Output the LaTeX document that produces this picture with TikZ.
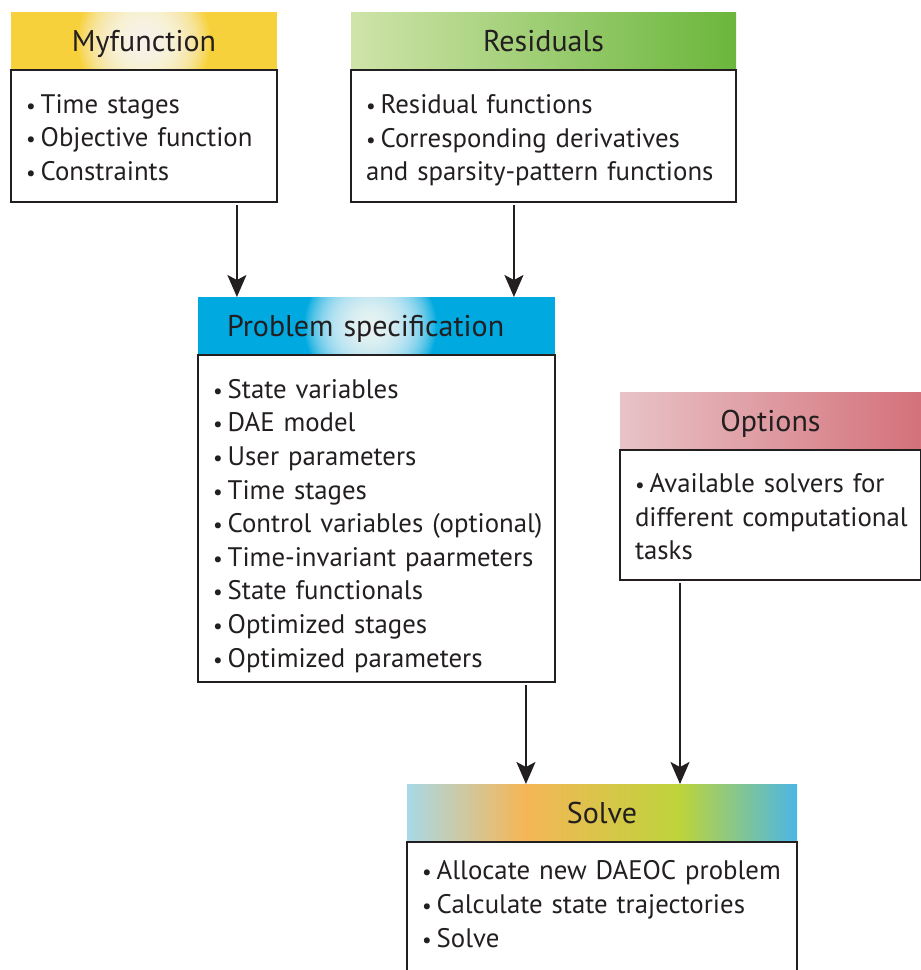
\documentclass[tikz,border=0pt]{standalone}
\usepackage{fontspec}
\setmainfont{PT Sans}
\usetikzlibrary{arrows.meta,calc}

\definecolor{ink}{HTML}{231F20}
\definecolor{myyellow}{HTML}{F7D13B}
\definecolor{specblue}{HTML}{00A9DF}
\definecolor{resleft}{HTML}{CFE4A9}
\definecolor{resright}{HTML}{6BB63C}
\definecolor{optleft}{HTML}{E8C3C7}
\definecolor{optright}{HTML}{D4717A}
\definecolor{solA}{HTML}{A9D9E6}
\definecolor{solB}{HTML}{F6B657}
\definecolor{solC}{HTML}{BDD43B}
\definecolor{solD}{HTML}{4CB7E4}

% multi-stop gradient for the Solve header (visible part is 25bp..75bp)
\pgfdeclarehorizontalshading{solvegrad}{100bp}{%
  color(0bp)=(solA); color(25bp)=(solA); color(40bp)=(solB);
  color(60bp)=(solC); color(75bp)=(solD); color(100bp)=(solD)}

% one unbreakable list line, with or without a bullet
\newcommand{\bul}{\scalebox{0.8}{\textbullet}\hspace{5pt}}
\newcommand{\itm}[1]{\mbox{\bul #1}}
\newcommand{\cont}[1]{\mbox{#1}}
% invisible struts that trim the vertical placement of a list
\newcommand{\lift}[1]{\rule{0pt}{#1}}
\newcommand{\sink}[1]{\rule[-#1]{0pt}{#1}}

\begin{document}
\begin{tikzpicture}[x=1pt,y=-1pt,
  hdr/.style={draw=none, minimum height=58pt, inner sep=0pt, outer sep=0pt,
    text height=24pt, text depth=4pt,
    font=\fontsize{30}{33}\selectfont, text=ink},
  % soft white glow built from stacked translucent discs
  glow/.style={path picture={
    \foreach \i in {0,...,39}
      \fill[white, opacity=0.065]
        ($(path picture bounding box.center)+(#1,0)$) circle ({66pt-1.6pt*\i});}},
  body/.style={draw=ink, line width=2.4pt, fill=white, inner xsep=15pt,
    inner ysep=0pt, outer sep=0pt, align=left, anchor=north, text=ink,
    font=\fontsize{26.8}{33.6}\selectfont},
  arr/.style={draw=ink, line width=2pt, shorten <=3pt,
    -{Stealth[length=22pt,width=19pt,inset=5pt]}}]

\useasboundingbox (0,0) rectangle (921,970);

% Myfunction
\node[hdr, fill=myyellow, glow=0, minimum width=266pt] (myhdr) at (144,41) {Myfunction};
\node[body, text width=236pt, minimum height=132pt] (mybody) at (myhdr.south)
  {\lift{22pt}\itm{Time stages}\\ \itm{Objective function}\\ \itm{Constraints}};

% Residuals
\node[hdr, left color=resleft, right color=resright, minimum width=385pt] (reshdr) at (543.5,41) {Residuals};
\node[body, text width=355pt, minimum height=132pt] (resbody) at (reshdr.south)
  {\lift{28pt}\itm{Residual functions}\\ \itm{Corresponding derivatives}\\ \cont{and sparsity-pattern functions}};

% Problem specification
\node[hdr, fill=specblue, glow=-6, inner xsep=29pt, text width=299pt, align=left] (spechdr) at (376.5,326) {Problem specification};
\node[body, text width=327pt, minimum height=327pt] (specbody) at (spechdr.south)
  {\lift{33.6pt}\itm{State variables}\\ \itm{DAE model}\\ \itm{User parameters}\\ \itm{Time stages}\\
   \itm{Control variables (optional)}\\ \itm{Time-invariant paarmeters}\\
   \itm{State functionals}\\ \itm{Optimized stages}\\ \itm{Optimized parameters}};

% Options
\node[hdr, left color=optleft, right color=optright, minimum width=301pt] (opthdr) at (770.5,421) {Options};
\node[body, text width=271pt, minimum height=130pt] (optbody) at (opthdr.south)
  {\lift{23pt}\itm{Available solvers for}\\ \cont{different computational}\\ \cont{tasks}};

% Solve
\node[hdr, shading=solvegrad, minimum width=390pt] (solhdr) at (602,813) {Solve};
\node[body, text width=360pt, minimum height=132pt] (solbody) at (solhdr.south)
  {\itm{Allocate new DAEOC problem}\\ \itm{Calculate state trajectories}\\ \itm{Solve}\sink{8pt}};

% entry points of the connectors
\coordinate (inA) at ($(spechdr.north west)!0.109!(spechdr.north east)$);
\coordinate (inB) at ($(spechdr.north west)!0.885!(spechdr.north east)$);
\coordinate (inC) at ($(solhdr.north west)!0.305!(solhdr.north east)$);
\coordinate (inD) at ($(solhdr.north west)!0.700!(solhdr.north east)$);

\draw[arr] (mybody.south -| inA) -- (inA);
\draw[arr] (resbody.south -| inB) -- (inB);
\draw[arr] (specbody.south -| inC) -- (inC);
\draw[arr] (optbody.south -| inD) -- (inD);

\end{tikzpicture}
\end{document}
